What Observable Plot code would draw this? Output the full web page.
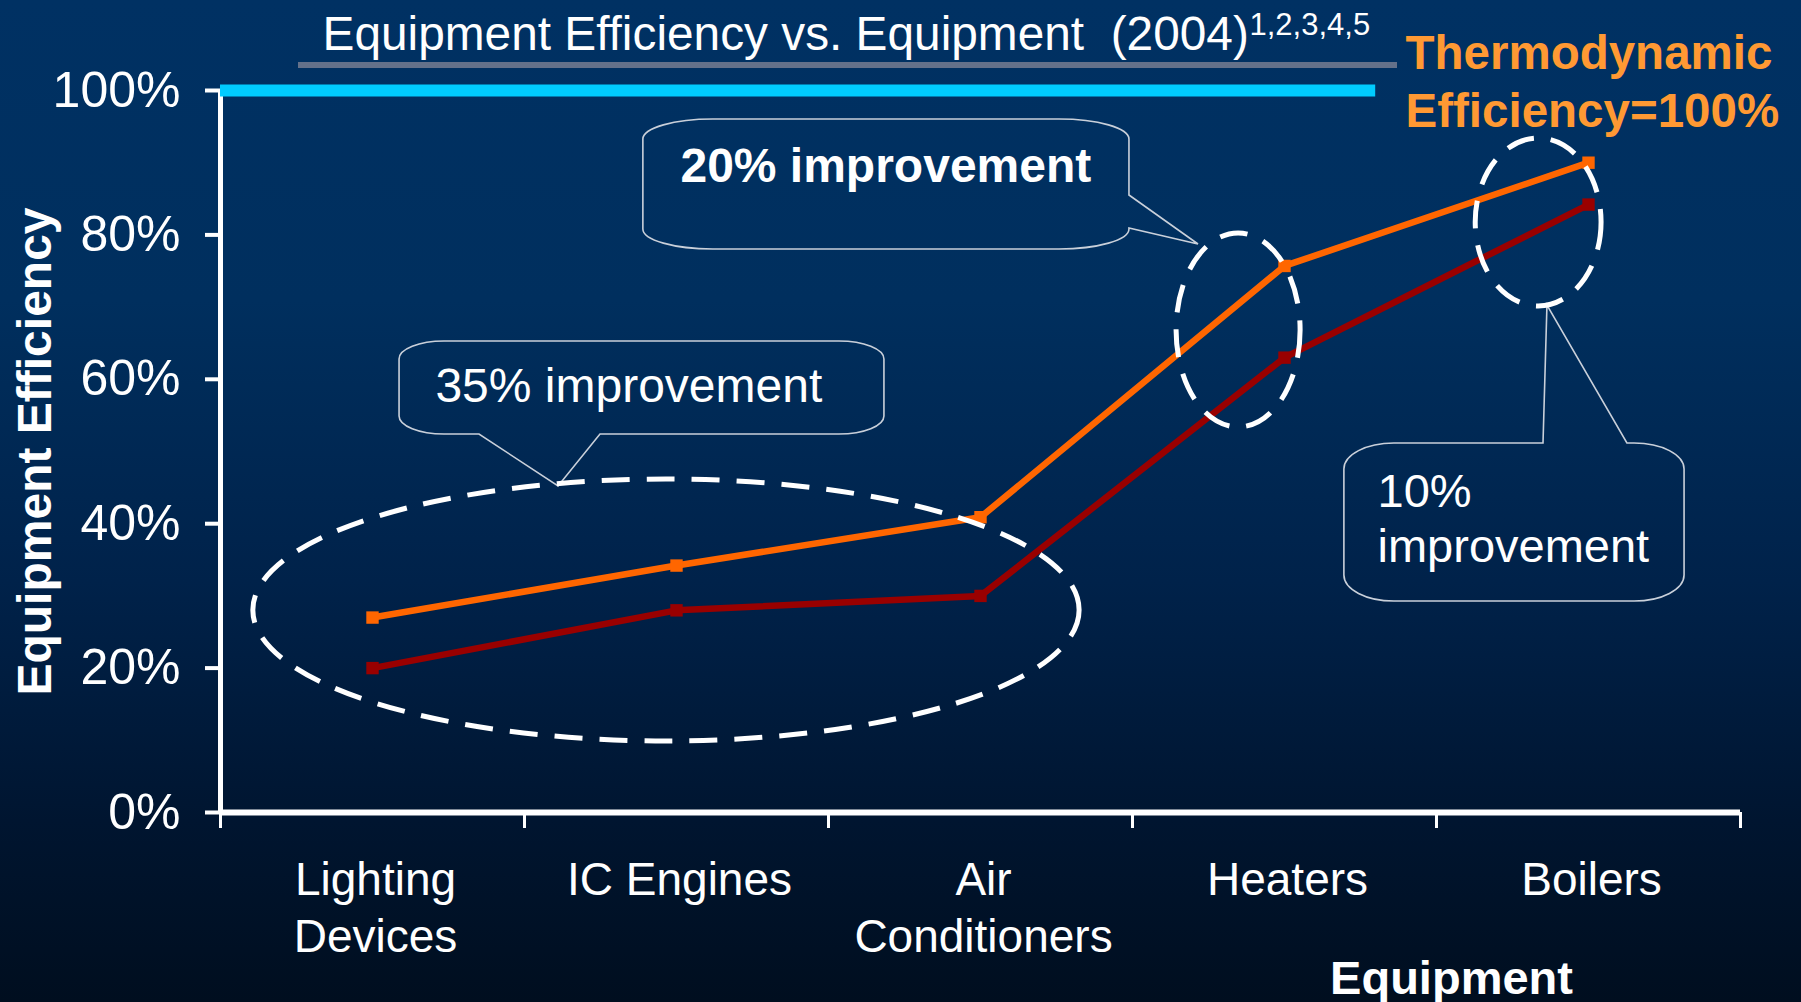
<!DOCTYPE html>
<html>
<head>
<meta charset="utf-8">
<script src="https://cdn.jsdelivr.net/npm/d3@7"></script>
<script src="https://cdn.jsdelivr.net/npm/@observablehq/plot@0.6"></script>
<style>
  html, body { margin: 0; padding: 0; overflow: hidden; }
  body {
    width: 1801px; height: 1002px;
    background: linear-gradient(to bottom, #003163 0%, #002f5e 30%, #00224a 58%, #001530 82%, #000e1f 100%);
    font-family: "Liberation Sans", Arial, sans-serif;
  }
  #wrap { position: relative; width: 1801px; height: 1002px; }
  #titleRule { position: absolute; left: 298px; top: 62px; width: 1099px; height: 6px; background: #64718a; }
  #chart { position: absolute; left: 0; top: 0; }
</style>
</head>
<body>
<div id="wrap">
  <div id="titleRule"></div>
  <div id="chart"></div>
</div>
<script>
// ---------- data ----------
const categories = ["Lighting Devices", "IC Engines", "Air Conditioners", "Heaters", "Boilers"];
const categoryLabels = ["Lighting\nDevices", "IC Engines", "Air\nConditioners", "Heaters", "Boilers"];
const efficiencyHigh = [27, 34.2, 40.9, 75.7, 90];   // orange series
const efficiencyLow  = [20, 28, 30, 63, 84.2];       // dark red series
const yTicks = [0, 20, 40, 60, 80, 100];
const xBoundaries = [0, 1, 2, 3, 4, 5];
const thermoLimit = [{value: 100, from: 0, to: 3.8}];

const titleText = "Equipment Efficiency vs. Equipment\u00a0 (2004)";
const titleRefs = "1,2,3,4,5";
const thermoText = "Thermodynamic\nEfficiency=100%";
const yLabel = "Equipment Efficiency";
const xLabel = "Equipment";

// annotation ellipses (data units: x in category slots, y in %)
const ellipses = [
  {cx: 1.467, cy: 27.98, rx: 1.359, ry: 18.14},
  {cx: 3.349, cy: 66.76, rx: 0.204, ry: 13.43},
  {cx: 4.336, cy: 81.72, rx: 0.207, ry: 11.63}
];
// callout boxes (data units)
const callouts = [
  {id: "c20", x1: 1.391, x2: 2.990, top: 95.98, bottom: 77.98, side: "right", a: 85.46, b: 80.89, tipX: 3.217, tipY: 78.67},
  {id: "c35", x1: 0.589, x2: 2.184, top: 65.24, bottom: 52.35, side: "bottom", a: 0.852, b: 1.25, tipX: 1.112, tipY: 45.15},
  {id: "c10", x1: 3.697, x2: 4.816, top: 51.11, bottom: 29.22, side: "top", a: 4.352, b: 4.628, tipX: 4.365, tipY: 70.22}
];
const calloutTextsBold = [{x: 1.513, y: 87.26, text: "20% improvement"}];
const calloutTextsRegular = [
  {x: 0.707, y: 56.79, text: "35% improvement"}
];
const calloutTextsRegular2 = [
  {x: 3.806, y: 34.63, text: "10%\nimprovement"}
];

// ---------- styles ----------
const cornerStyle = {c20: {rx: 70, ry: 20}, c35: {rx: 45, ry: 18}, c10: {rx: 50, ry: 26}};

const rows = categories.map((c, i) => ({
  category: c, label: categoryLabels[i], pos: i + 0.5,
  high: efficiencyHigh[i], low: efficiencyLow[i]
}));

function calloutPath(c, X, Y, rx, ry) {
  const x1 = X(c.x1), x2 = X(c.x2), y1 = Y(c.top), y2 = Y(c.bottom);
  const tx = X(c.tipX), ty = Y(c.tipY);
  const p = d3.path();
  p.moveTo(x1 + rx, y1);
  if (c.side === "top") { p.lineTo(X(c.a), y1); p.lineTo(tx, ty); p.lineTo(X(c.b), y1); }
  p.lineTo(x2 - rx, y1);
  let s = `${p.toString()} A${rx},${ry} 0 0 1 ${x2},${y1 + ry}`;
  if (c.side === "right") s += ` L${x2},${Y(c.a)} L${tx},${ty} L${x2},${Y(c.b)}`;
  s += ` L${x2},${y2 - ry} A${rx},${ry} 0 0 1 ${x2 - rx},${y2}`;
  if (c.side === "bottom") s += ` L${X(c.b)},${y2} L${tx},${ty} L${X(c.a)},${y2}`;
  s += ` L${x1 + rx},${y2} A${rx},${ry} 0 0 1 ${x1},${y2 - ry}`;
  s += ` L${x1},${y1 + ry} A${rx},${ry} 0 0 1 ${x1 + rx},${y1} Z`;
  return s;
}

function annotationLayer(index, scales) {
  const X = scales.x, Y = scales.y;
  const g = d3.create("svg:g").attr("fill", "none");
  for (const c of callouts) {
    const st = cornerStyle[c.id];
    g.append("path").attr("d", calloutPath(c, X, Y, st.rx, st.ry))
      .attr("stroke", "#c9d0da").attr("stroke-width", 1.6);
  }
  for (const e of ellipses) {
    g.append("ellipse")
      .attr("cx", X(e.cx)).attr("cy", Y(e.cy))
      .attr("rx", Math.abs(X(e.cx + e.rx) - X(e.cx)))
      .attr("ry", Math.abs(Y(e.cy + e.ry) - Y(e.cy)))
      .attr("stroke", "white").attr("stroke-width", 5)
      .attr("stroke-dasharray", "28 17");
  }
  return g.node();
}

const plot = Plot.plot({
  width: 1801, height: 1002,
  marginLeft: 220, marginRight: 61, marginTop: 90, marginBottom: 190,
  style: {background: "transparent", color: "white", fontFamily: "Liberation Sans, Arial, sans-serif", overflow: "visible"},
  x: {domain: [0, 5]},
  y: {domain: [0, 100]},
  marks: [
    Plot.axisY({ticks: yTicks, tickSize: 15, tickPadding: 25, tickFormat: d => d + "%", fontSize: 50, strokeWidth: 4, label: null}),
    Plot.axisX({ticks: xBoundaries, tickSize: 16, tickFormat: () => "", strokeWidth: 3, label: null}),
    Plot.ruleX([0], {stroke: "white", strokeWidth: 5}),
    Plot.ruleY([0], {stroke: "white", strokeWidth: 6}),
    Plot.line(rows, {x: "pos", y: "low", stroke: "#990000", strokeWidth: 6.5}),
    Plot.dot(rows, {x: "pos", y: "low", symbol: "square", r: 7, fill: "#990000"}),
    Plot.line(rows, {x: "pos", y: "high", stroke: "#ff6600", strokeWidth: 6.5}),
    Plot.dot(rows, {x: "pos", y: "high", symbol: "square", r: 7, fill: "#ff6600"}),
    Plot.ruleY(thermoLimit, {y: "value", x1: "from", x2: "to", stroke: "#00ccff", strokeWidth: 12}),
    annotationLayer,
    Plot.text(rows, {x: "pos", y: () => 0, text: "label", fontSize: 46, lineHeight: 1.24, lineAnchor: "top", dy: 42, dx: 3, fill: "white"}),
    Plot.text(calloutTextsBold, {x: "x", y: "y", text: "text", textAnchor: "start", lineAnchor: "bottom", fontSize: 48, fontWeight: "bold", fill: "white"}),
    Plot.text(calloutTextsRegular, {x: "x", y: "y", text: "text", textAnchor: "start", lineAnchor: "bottom", fontSize: 48, fill: "white"}),
    Plot.text(calloutTextsRegular2, {x: "x", y: "y", text: "text", textAnchor: "start", lineAnchor: "bottom", fontSize: 47, lineHeight: 1.19, fill: "white"}),
    Plot.text([titleText], {frameAnchor: "top-left", dx: 102, dy: -41, text: d => d, textAnchor: "start", lineAnchor: "bottom", fontSize: 47.8, fill: "white"}),
    Plot.text([titleRefs], {frameAnchor: "top-left", dx: 1029, dy: -56, text: d => d, textAnchor: "start", lineAnchor: "bottom", fontSize: 31, fill: "white"}),
    Plot.text([thermoText], {frameAnchor: "top-left", dx: 1185, dy: 36, text: d => d, textAnchor: "start", lineAnchor: "bottom", fontSize: 47.5, fontWeight: "bold", lineHeight: 1.22, fill: "#ff9933"}),
    Plot.text([yLabel], {frameAnchor: "left", dx: -170, text: d => d, rotate: -90, textAnchor: "middle", lineAnchor: "bottom", fontSize: 48, fontWeight: "bold", fill: "white"}),
    Plot.text([xLabel], {frameAnchor: "bottom", dx: 471, dy: 181, text: d => d, textAnchor: "middle", lineAnchor: "bottom", fontSize: 47, fontWeight: "bold", fill: "white"})
  ]
});
document.getElementById("chart").appendChild(plot);
</script>
</body>
</html>
